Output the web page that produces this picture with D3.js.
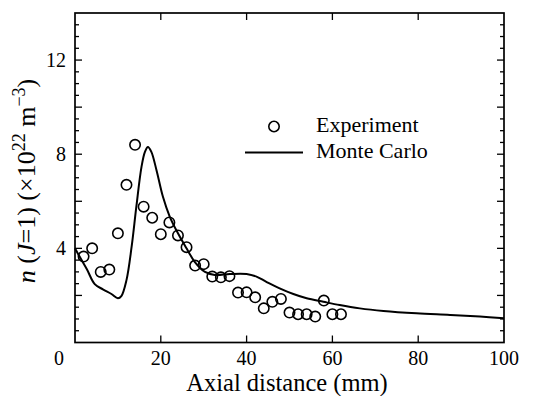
<!DOCTYPE html>
<html>
<head>
<meta charset="utf-8">
<script src="https://cdn.jsdelivr.net/npm/d3@7"></script>
<style>
  html, body { margin: 0; padding: 0; background: #fff; }
  svg { display: block; }
  text { font-family: "Liberation Serif", "DejaVu Serif", serif; fill: #000; }
</style>
</head>
<body>
<script>
// ---- data ----
const expX = [2, 4, 6, 8, 10, 12, 14, 16, 18, 20, 22, 24, 26, 28, 30, 32, 34, 36, 38, 40, 42, 44, 46, 48, 50, 52, 54, 56, 58, 60, 62];
const expY = [3.65, 4.0, 3.0, 3.1, 4.64, 6.7, 8.4, 5.77, 5.3, 4.6, 5.1, 4.55, 4.05, 3.27, 3.33, 2.8, 2.77, 2.82, 2.12, 2.13, 1.92, 1.45, 1.73, 1.85, 1.27, 1.2, 1.2, 1.1, 1.78, 1.2, 1.2];
const mcX = [0, 1.1, 2.8, 4.6, 6.5, 8.5, 10.0, 10.8, 12.0, 13.2, 14.3, 15.5, 16.3, 17.0, 17.8, 19.0, 20.5, 22.1, 24.0, 26.0, 27.9, 30.3, 32.6, 36.1, 40.0, 42.3, 44.6, 47.7, 50.9, 54.0, 57.9, 61.7, 66.4, 71.9, 79.6, 87.4, 94.4, 100];
const mcY = [4.0, 3.64, 3.1, 2.48, 2.26, 2.06, 1.88, 1.97, 2.65, 4.07, 5.77, 7.46, 8.1, 8.31, 8.1, 7.32, 6.19, 5.34, 4.64, 4.0, 3.43, 3.0, 2.87, 2.91, 2.91, 2.8, 2.58, 2.3, 2.06, 1.88, 1.73, 1.59, 1.45, 1.34, 1.24, 1.17, 1.1, 1.03];
const xTickLabels = [0, 20, 40, 60, 80, 100];
const yTickLabels = [4, 8, 12];
const legendLabels = ["Experiment", "Monte Carlo"];

// ---- layout ----
const W = 541, H = 396;
const L = 75, R = 504, T = 13, B = 342.5;

const svg = d3.select("body").append("svg").attr("width", W).attr("height", H);

const x = d3.scaleLinear().domain([0, 100]).range([L, R]);
const y = d3.scaleLinear().domain([0, 14]).range([B, T]);

// frame
svg.append("rect").attr("x", L).attr("y", T).attr("width", R - L).attr("height", B - T)
  .attr("fill", "none").attr("stroke", "#000").attr("stroke-width", 1.7);

// y ticks (left and right), inward
const yMinor = d3.range(0.5, 14, 0.5);
const yMajor = d3.range(2, 14, 2);
[[L, 1], [R, -1]].forEach(([x0, dir]) => {
  svg.append("g").selectAll("line").data(yMinor).join("line")
    .attr("x1", x0).attr("x2", d => x0 + dir * (yMajor.includes(d) ? 7 : 4))
    .attr("y1", d => y(d)).attr("y2", d => y(d))
    .attr("stroke", "#000").attr("stroke-width", 1.3);
});
// x ticks (bottom and top), inward
const xMajor = [20, 40, 60, 80];
[[B, -1], [T, 1]].forEach(([y0, dir]) => {
  svg.append("g").selectAll("line").data(xMajor).join("line")
    .attr("x1", d => x(d)).attr("x2", d => x(d))
    .attr("y1", y0).attr("y2", y0 + dir * 7)
    .attr("stroke", "#000").attr("stroke-width", 1.3);
});

// x tick labels
svg.append("g").selectAll("text").data(xTickLabels).join("text")
  .attr("x", d => d === 0 ? x(d) - 16 : x(d))
  .attr("y", 364.5)
  .attr("text-anchor", "middle")
  .attr("font-size", 20)
  .text(d => d);

// y tick labels
svg.append("g").selectAll("text").data(yTickLabels).join("text")
  .attr("x", 66)
  .attr("y", d => y(d) + 7)
  .attr("text-anchor", "end")
  .attr("font-size", 20)
  .text(d => d);

// axis titles
svg.append("text").attr("x", 287).attr("y", 390.5).attr("text-anchor", "middle")
  .attr("font-size", 24.5).text("Axial distance (mm)");

const yt = svg.append("text")
  .attr("transform", "translate(35,181) rotate(-90)")
  .attr("text-anchor", "middle").attr("font-size", 26);
yt.append("tspan").attr("font-style", "italic").text("n");
yt.append("tspan").text(" (");
yt.append("tspan").attr("font-style", "italic").text("J");
yt.append("tspan").text("=1) (×10");
yt.append("tspan").attr("font-size", 18).attr("dy", -10).text("22");
yt.append("tspan").attr("dy", 10).text(" m");
yt.append("tspan").attr("font-size", 18).attr("dy", -10).text("−3");
yt.append("tspan").attr("dy", 10).text(")");

// Monte Carlo line
const mcData = mcX.map((v, i) => [v, mcY[i]]);
svg.append("path").datum(mcData)
  .attr("d", d3.line().x(d => x(d[0])).y(d => y(d[1])).curve(d3.curveCatmullRom.alpha(0.5)))
  .attr("fill", "none").attr("stroke", "#000").attr("stroke-width", 2);

// Experiment circles
const expData = expX.map((v, i) => [v, expY[i]]);
svg.append("g").selectAll("circle").data(expData).join("circle")
  .attr("cx", d => x(d[0])).attr("cy", d => y(d[1])).attr("r", 5.2)
  .attr("fill", "none").attr("stroke", "#000").attr("stroke-width", 1.6);

// legend
svg.append("circle").attr("cx", 274).attr("cy", 126.5).attr("r", 5.2)
  .attr("fill", "none").attr("stroke", "#000").attr("stroke-width", 1.6);
svg.append("line").attr("x1", 245).attr("x2", 303).attr("y1", 152.5).attr("y2", 152.5)
  .attr("stroke", "#000").attr("stroke-width", 2);
svg.append("g").selectAll("text").data(legendLabels).join("text")
  .attr("x", 316).attr("y", (d, i) => 131.5 + i * 26)
  .attr("font-size", 22).text(d => d);
</script>
</body>
</html>
